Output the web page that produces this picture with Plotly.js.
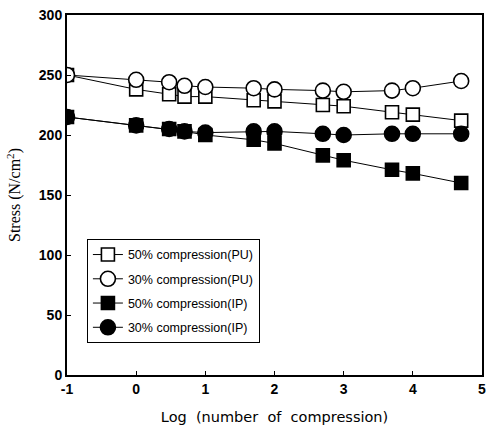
<!DOCTYPE html>
<html>
<head>
<meta charset="utf-8">
<script src="https://cdn.plot.ly/plotly-3.0.1.min.js"></script>
<style>
html,body{margin:0;padding:0;background:#fff;}
#chart{width:486px;height:438px;}
</style>
</head>
<body>
<div id="chart"></div>
<script>
var logN = [-1, 0, 0.477, 0.699, 1, 1.699, 2, 2.699, 3, 3.699, 4, 4.699];
var pu50 = [250, 238, 234, 232, 232, 229, 228, 225, 224, 219, 217, 212];
var pu30 = [250, 246, 244, 241, 240, 239, 238, 237, 236, 237, 239, 245];
var ip50 = [215, 208, 205, 203, 200, 196, 193, 183, 179, 171, 168, 160];
var ip30 = [215, 208, 205, 203, 202, 203, 203, 201, 200, 201, 201, 201];
var names = ['50% compression(PU)', '30% compression(PU)', '50% compression(IP)', '30% compression(IP)'];
var xTicks = [-1, 0, 1, 2, 3, 4, 5];
var yTicks = [0, 50, 100, 150, 200, 250, 300];

function tr(y, name, symbol, fill, size, rank) {
  return {
    x: logN, y: y, name: name, type: 'scatter', mode: 'lines+markers',
    line: {color: '#000', width: 1},
    marker: {symbol: symbol, size: size, color: fill, line: {color: '#000', width: 1.6}},
    legendgroup: 'g' + rank, legendrank: rank
  };
}
var data = [
  tr(pu50, names[0], 'square', '#fff', 13, 1),
  tr(ip50, names[2], 'square', '#000', 13, 3),
  tr(pu30, names[1], 'circle', '#fff', 15, 2),
  tr(ip30, names[3], 'circle', '#000', 15, 4)
];
var layout = {
  width: 486, height: 438,
  margin: {l: 67, r: 4, t: 15, b: 63},
  paper_bgcolor: '#fff', plot_bgcolor: '#fff',
  showlegend: true,
  legend: {
    x: 0.048, y: 0.378, xanchor: 'left', yanchor: 'top',
    bgcolor: '#fff', bordercolor: '#000', borderwidth: 1,
    font: {family: 'Liberation Sans, Arial, sans-serif', size: 12.5, color: '#000'},
    traceorder: 'grouped', tracegroupgap: 5
  },
  xaxis: {
    range: [-1, 5], tickvals: xTicks, ticktext: xTicks.map(String),
    showgrid: false, zeroline: false,
    showline: true, linecolor: '#000', linewidth: 2, mirror: true,
    ticks: 'inside', ticklen: 4, tickcolor: '#000', tickwidth: 1,
    ticklabeloverflow: 'allow',
    tickfont: {family: 'Liberation Sans, Arial, sans-serif', size: 14, color: '#000', weight: 'bold'},
    title: {text: 'Log  (number  of  compression)', standoff: 16,
      font: {family: 'DejaVu Sans, sans-serif', size: 14.5, color: '#000'}}
  },
  yaxis: {
    range: [0, 300], tickvals: yTicks, ticktext: yTicks.map(String),
    showgrid: false, zeroline: false,
    showline: true, linecolor: '#000', linewidth: 2, mirror: true,
    ticks: 'inside', ticklen: 4, tickcolor: '#000', tickwidth: 1,
    ticklabeloverflow: 'allow',
    tickfont: {family: 'Liberation Sans, Arial, sans-serif', size: 14, color: '#000', weight: 'bold'},
    title: {text: 'Stress (N/cm<sup>2</sup>)', standoff: 14,
      font: {family: 'Liberation Serif, Times New Roman, serif', size: 16, color: '#000'}}
  }
};
Plotly.newPlot('chart', data, layout, {displayModeBar: false, staticPlot: true});
</script>
</body>
</html>
